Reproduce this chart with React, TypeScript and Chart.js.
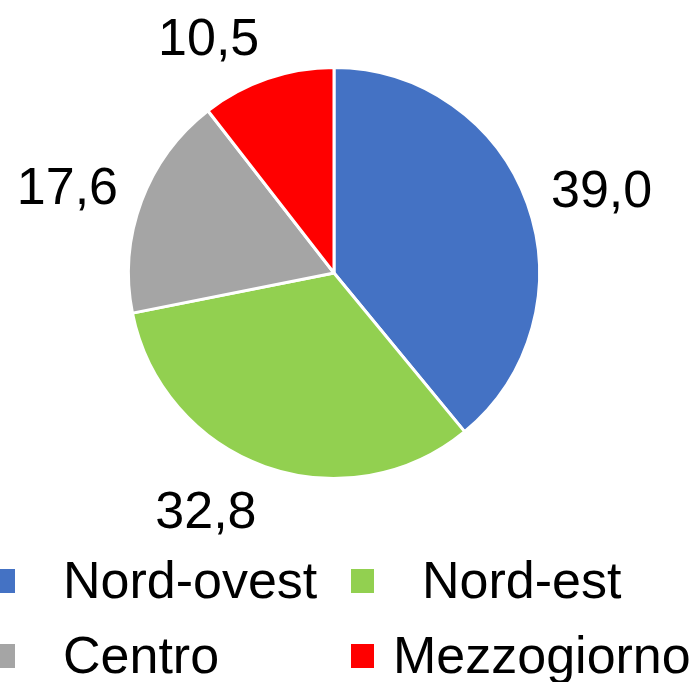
import React, { useEffect, useRef } from "react";
import { Chart, registerables } from "chart.js";

Chart.register(...registerables);

const categories = ["Nord-ovest", "Nord-est", "Centro", "Mezzogiorno"];
const values = [39.0, 32.8, 17.6, 10.5];
const colors = ["#4472C4", "#92D050", "#A5A5A5", "#FF0000"];

const FONT = '"Liberation Sans", Arial, sans-serif';
const FONT_SIZE = 52;

// legend layout: [boxX, textX, rowCenterY] per item
const legendLayout = [
  [-8, 63, 581],
  [351, 422, 581],
  [-8, 63, 656],
  [351, 393, 656],
];

const fmt = (v: number) => v.toFixed(1).replace(".", ",");

const outLabels = {
  id: "outLabels",
  afterDatasetsDraw(chart: any) {
    const ctx = chart.ctx;
    const meta = chart.getDatasetMeta(0);
    ctx.save();
    ctx.font = `${FONT_SIZE}px ${FONT}`;
    ctx.fillStyle = "#000";
    ctx.textAlign = "center";
    ctx.textBaseline = "alphabetic";
    const capH = FONT_SIZE * 0.716;
    meta.data.forEach((arc: any, i: number) => {
      const p = arc.getProps(["x", "y", "startAngle", "endAngle", "outerRadius"], true);
      const mid = (p.startAngle + p.endAngle) / 2;
      const dx = Math.cos(mid);
      const dy = Math.sin(mid);
      const R = p.outerRadius + 25;
      const px = p.x + dx * R;
      const py = p.y + dy * R;
      const text = fmt(values[i]);
      const w = ctx.measureText(text).width;
      const cx = px + Math.sign(dx) * (w / 2);
      const cy = py + dy * 20;
      ctx.fillText(text, cx, cy + capH / 2);
    });
    ctx.restore();
  },
};

const customLegend = {
  id: "customLegend",
  afterDraw(chart: any) {
    const ctx = chart.ctx;
    ctx.save();
    ctx.font = `${FONT_SIZE}px ${FONT}`;
    ctx.textAlign = "left";
    ctx.textBaseline = "alphabetic";
    const capH = FONT_SIZE * 0.716;
    categories.forEach((name, i) => {
      const [bx, tx, cy] = legendLayout[i];
      ctx.fillStyle = colors[i];
      ctx.fillRect(bx, cy - 12, 23, 24);
      ctx.fillStyle = "#000";
      ctx.fillText(name, tx, cy + capH / 2 - 2);
    });
    ctx.restore();
  },
};

export default function App() {
  const ref = useRef<HTMLCanvasElement>(null);
  useEffect(() => {
    document.body.style.margin = "0";
    if (!ref.current) return;
    const chart = new Chart(ref.current, {
      type: "pie",
      data: {
        labels: categories,
        datasets: [
          {
            data: values,
            backgroundColor: colors,
            borderColor: "#FFFFFF",
            borderWidth: 3,
          },
        ],
      },
      options: {
        responsive: false,
        animation: false,
        layout: { padding: { left: 127, right: 159, top: 66, bottom: 202 } },
        plugins: {
          legend: { display: false },
          tooltip: { enabled: false },
        },
      },
      plugins: [outLabels, customLegend],
    });
    return () => chart.destroy();
  }, []);
  return (
    <div style={{ width: 700, height: 682, background: "#fff" }}>
      <canvas ref={ref} width={700} height={682} />
    </div>
  );
}
